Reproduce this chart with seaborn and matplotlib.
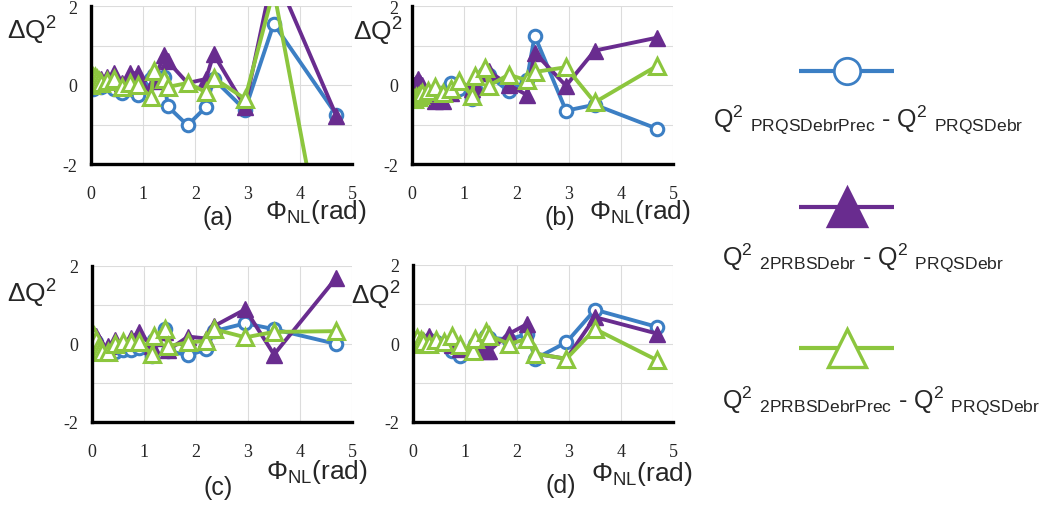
import matplotlib
matplotlib.use("Agg")
import matplotlib.pyplot as plt
from matplotlib.ticker import MultipleLocator
import seaborn as sns

# phase values (rad) shared by all panels
phi = [0.0, 0.04, 0.08, 0.12, 0.16, 0.2, 0.3, 0.45, 0.6, 0.75, 0.9,
       1.15, 1.2, 1.4, 1.47, 1.85, 2.2, 2.35, 2.95, 3.5, 4.7]

# panel (a)
a_prec = [-0.05, -0.1, 0.0, 0.05, 0.0, -0.05, 0.0, -0.1, -0.2, -0.1, -0.25,
          0.15, 0.25, 0.2, -0.54, -1.02, -0.56, 0.15, -0.63, 1.55, -0.75]
a_2prbs = [0.0, 0.1, 0.15, 0.05, 0.1, 0.15, 0.2, 0.3, 0.05, 0.3, 0.3,
           -0.3, 0.1, 0.75, 0.6, 0.05, 0.15, 0.78, -0.55, 2.9, -0.78]
a_2prbs_prec = [0.0, 0.2, 0.2, 0.15, 0.1, 0.05, 0.1, 0.15, -0.05, 0.05, 0.0,
                -0.3, 0.35, 0.15, -0.05, 0.05, -0.18, 0.18, -0.35, 2.4, -6.0]

# panel (b)
b_prec = [-0.2, -0.25, -0.15, -0.1, -0.15, -0.2, -0.2, -0.3, -0.2, 0.05, -0.1,
          -0.35, -0.1, 0.3, 0.25, -0.16, 0.12, 1.25, -0.65, -0.5, -1.11]
b_2prbs = [-0.25, 0.0, 0.05, 0.15, 0.05, 0.0, -0.2, -0.4, -0.4, -0.2, 0.1,
           -0.1, 0.0, 0.3, 0.35, 0.0, -0.25, 0.82, -0.02, 0.87, 1.2]
b_2prbs_prec = [-0.35, -0.35, -0.3, -0.3, -0.25, -0.2, -0.15, -0.05, -0.2, -0.1, 0.1,
                -0.27, 0.24, 0.42, -0.02, 0.26, 0.12, 0.33, 0.45, -0.44, 0.49]

# panel (c)
c_prec = [0.0, 0.1, 0.05, -0.1, -0.15, -0.2, -0.2, -0.2, -0.15, -0.15, -0.1,
          -0.3, 0.1, 0.38, -0.18, -0.29, -0.14, 0.33, 0.53, 0.38, 0.0]
c_2prbs = [0.1, 0.15, 0.2, 0.1, 0.0, -0.1, -0.05, 0.1, 0.05, 0.15, 0.3,
           -0.05, 0.15, 0.3, -0.15, 0.19, 0.14, 0.46, 0.89, -0.27, 1.7]
c_2prbs_prec = [0.15, 0.2, 0.1, -0.1, -0.15, -0.2, -0.2, 0.0, 0.06, 0.04, 0.04,
                -0.26, 0.2, 0.38, -0.05, 0.04, 0.08, 0.38, 0.17, 0.31, 0.33]

# panel (d)
d_prec = [0.0, 0.05, 0.1, 0.0, 0.05, 0.0, 0.1, 0.05, 0.0, -0.18, -0.31,
          -0.22, 0.0, 0.2, 0.15, 0.1, 0.25, -0.39, 0.03, 0.86, 0.42]
d_2prbs = [0.0, 0.1, 0.15, 0.1, 0.05, 0.1, 0.2, 0.1, 0.05, -0.05, -0.15,
           -0.15, 0.0, -0.2, -0.18, 0.25, 0.5, -0.26, -0.39, 0.67, 0.25]
d_2prbs_prec = [0.1, 0.05, 0.15, 0.0, 0.1, 0.05, 0.0, 0.1, 0.05, 0.19, -0.05,
                -0.18, 0.12, 0.29, 0.2, -0.01, 0.12, -0.26, -0.39, 0.37, -0.43]

panel_names = ["(a)", "(b)", "(c)", "(d)"]
panel_data = [
    [a_prec, a_2prbs, a_2prbs_prec],
    [b_prec, b_2prbs, b_2prbs_prec],
    [c_prec, c_2prbs, c_2prbs_prec],
    [d_prec, d_2prbs, d_2prbs_prec],
]
series_labels = [
    r"Q$^{2}$ ${}_{\mathrm{PRQSDebrPrec}}$ - Q$^{2}$ ${}_{\mathrm{PRQSDebr}}$",
    r"Q$^{2}$ ${}_{\mathrm{2PRBSDebr}}$ - Q$^{2}$ ${}_{\mathrm{PRQSDebr}}$",
    r"Q$^{2}$ ${}_{\mathrm{2PRBSDebrPrec}}$ - Q$^{2}$ ${}_{\mathrm{PRQSDebr}}$",
]

BLUE = "#3c7fc4"
PURPLE = "#692c8f"
GREEN = "#8cc63e"
styles = [
    dict(color=BLUE, marker="o", markersize=9, markerfacecolor="white",
         markeredgecolor=BLUE, markeredgewidth=2.2),
    dict(color=PURPLE, marker="^", markersize=11, markerfacecolor=PURPLE,
         markeredgecolor=PURPLE, markeredgewidth=1.0),
    dict(color=GREEN, marker="^", markersize=11, markerfacecolor="white",
         markeredgecolor=GREEN, markeredgewidth=2.2),
]

sns.set_style("white")
plt.rcParams["font.family"] = ["Liberation Sans", "DejaVu Sans"]
plt.rcParams["axes.unicode_minus"] = False
plt.rcParams["mathtext.fontset"] = "custom"
plt.rcParams["mathtext.rm"] = "Liberation Sans"
plt.rcParams["mathtext.it"] = "Liberation Sans:italic"
plt.rcParams["mathtext.bf"] = "Liberation Sans:bold"

W, H = 1045, 506
fig = plt.figure(figsize=(W / 100, H / 100), dpi=100)


def box(left, top, right, bottom):
    return [left / W, 1 - bottom / H, (right - left) / W, (bottom - top) / H]


def fpos(x, y):
    return x / W, 1 - y / H


# pixel boxes of the four plot areas
boxes = [box(91, 7, 352, 165), box(412, 7, 673, 165),
         box(92, 267, 352, 423), box(413, 266, 673, 423)]
ylab_pos = [(57, 31), (403, 32), (57, 294), (401, 296)]
tag_pos = [(218, 218), (560, 218), (218, 488), (561, 486)]
xlab_pos = [(265, 212), (589, 212), (266, 472), (591, 474)]

for ax_box, series, name, yl, tg, xl in zip(boxes, panel_data, panel_names,
                                            ylab_pos, tag_pos, xlab_pos):
    ax = fig.add_axes(ax_box)
    for vals, st in zip(series, styles):
        sns.lineplot(x=phi, y=vals, ax=ax, sort=False, estimator=None,
                     linewidth=2.8, legend=False, **st)
    ax.set_xlim(0, 5)
    ax.set_ylim(-2, 2)
    ax.xaxis.set_major_locator(MultipleLocator(1))
    ax.yaxis.set_major_locator(MultipleLocator(2))
    ax.yaxis.set_minor_locator(MultipleLocator(1))
    ax.grid(True, which="both", color="#dcdcdc", linewidth=0.8)
    ax.set_axisbelow(True)
    for side in ["top", "right"]:
        ax.spines[side].set_visible(False)
    for side in ["left", "bottom"]:
        ax.spines[side].set_linewidth(2.4)
        ax.spines[side].set_color("black")
    ax.tick_params(which="major", direction="inout", length=8, width=2.0,
                   labelsize=13)
    ax.tick_params(axis="x", pad=11)
    ax.tick_params(axis="y", pad=6)
    ax.tick_params(which="minor", length=0)
    for lab in ax.get_xticklabels() + ax.get_yticklabels():
        lab.set_fontfamily("Liberation Serif")
    ax.set_xlabel("")
    ax.set_ylabel("")
    fig.text(*fpos(*yl), r"ΔQ$^{2}$", fontsize=19, ha="right", va="center")
    fig.text(*fpos(*tg), name, fontsize=18, ha="center", va="center")
    fig.text(*fpos(*xl), r"Φ${}_{\mathrm{NL}}$(rad)", fontsize=19,
             ha="left", va="center")

# legend drawn as a column on the right
lax = fig.add_axes([0, 0, 1, 1], zorder=-1)
lax.set_xlim(0, W)
lax.set_ylim(H, 0)
lax.axis("off")
leg_line_y = [72, 208, 349]
leg_text_y = [120, 258, 401]
leg_text_x = [713, 722, 722]
leg_ms = [19, 28, 28]
for ly, ty, tx, ms, st, lab in zip(leg_line_y, leg_text_y, leg_text_x,
                                   leg_ms, styles, series_labels):
    lax.plot([799, 894], [ly, ly], color=st["color"], linewidth=3.0,
             solid_capstyle="butt")
    mst = dict(st)
    mst["markersize"] = ms
    mst["markeredgewidth"] = 2.0 if st["marker"] == "o" else 2.4
    mst.pop("color")
    lax.plot([846.5], [ly], linestyle="none", **mst)
    lax.text(tx, ty, lab, fontsize=18, ha="left", va="center")

fig.savefig("out.png", dpi=100)
